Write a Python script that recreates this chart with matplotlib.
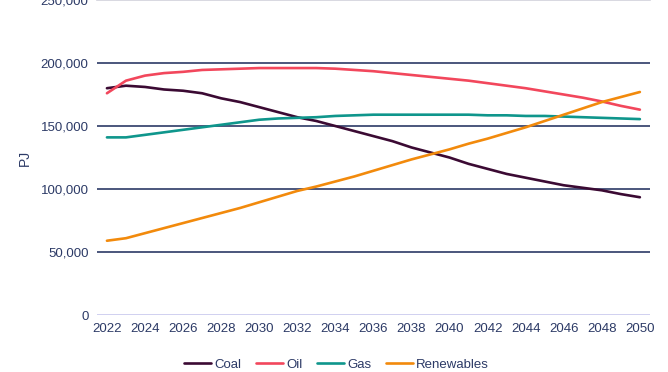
import numpy as np
import matplotlib.pyplot as plt
from matplotlib.ticker import FuncFormatter

plt.rcParams['font.family'] = ['Liberation Sans', 'DejaVu Sans']

years = list(range(2022, 2051))
coal = [180, 182, 181, 179, 178, 176, 172, 169, 165, 161, 157, 154, 150, 146, 142,
        138, 133, 129, 125, 120, 116, 112, 109, 106, 103, 101, 99, 96, 93.5]
oil = [176, 186, 190, 192, 193, 194.5, 195, 195.5, 196, 196, 196, 196, 195.5, 194.5, 193.5,
       192, 190.5, 189, 187.5, 186, 184, 182, 180, 177.5, 175, 172.5, 169.5, 166, 163]
gas = [141, 141, 143, 145, 147, 149, 151, 153, 155, 156, 156.5, 157, 158, 158.5, 159,
       159, 159, 159, 159, 159, 158.5, 158.5, 158, 158, 157.5, 157, 156.5, 156, 155.5]
renewables = [59, 61, 65, 69, 73, 77, 81, 85, 89.5, 94, 98.5, 102, 106, 110, 114.5,
              119, 123.5, 127.5, 131.5, 136, 140, 144.5, 149, 154, 159, 164, 169, 173, 177]

series = [("Coal", coal, "#3b0a33"), ("Oil", oil, "#f2475c"),
          ("Gas", gas, "#0f968c"), ("Renewables", renewables, "#f28a0c")]
navy = "#2c3a66"

fig = plt.figure(figsize=(6.68, 3.72), dpi=100)
ax = fig.add_axes([0.145, 0.153, 0.828, 0.847])

for name, vals, col in series:
    ax.plot(years, np.array(vals) * 1000, color=col, lw=1.9, label=name,
            solid_capstyle='round')

ax.set_xlim(2021.47, 2050.53)
ax.set_ylim(0, 250000)
ax.set_xticks(years[::2])
ax.set_yticks(range(0, 250001, 50000))
ax.yaxis.set_major_formatter(FuncFormatter(lambda v, p: f"{int(v):,}"))
ax.tick_params(length=0, labelsize=9.5, labelcolor=navy, pad=6)
for s in ax.spines.values():
    s.set_visible(False)

for v in range(50000, 200001, 50000):
    ax.axhline(v, color=navy, lw=1.2, zorder=0)
ax.axhline(0, color="#c8c8ee", lw=1.2, zorder=0)
ax.axhline(250000, color="#d2d2dc", lw=1.2, zorder=0, clip_on=False)

ax.set_ylabel("PJ", color=navy, fontsize=10, labelpad=6)

ax.legend(loc='upper center', bbox_to_anchor=(0.433, -0.1), ncol=4, frameon=False,
          fontsize=9.5, labelcolor=navy, handlelength=2.1, handletextpad=0.2,
          columnspacing=1.1)

fig.savefig("out.png")
